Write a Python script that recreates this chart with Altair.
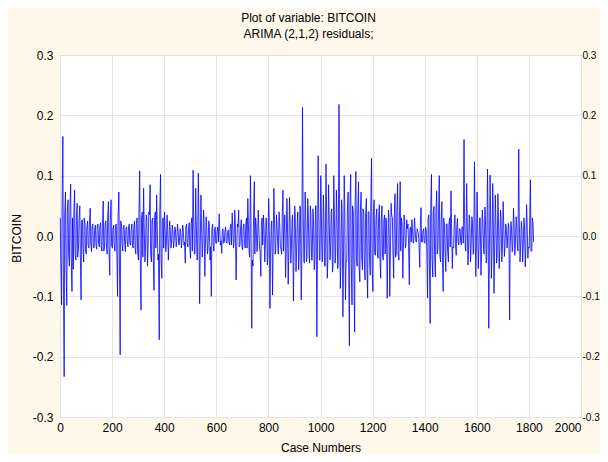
import altair as alt
import pandas as pd

# ---- data ----
# spike / envelope readings, every 5th case
case_numbers = list(range(1, 1821, 5))
residuals = [
    0.030, -0.114, 0.165, -0.233, 0.073, -0.115, 0.060, -0.050, 0.086, -0.092,
    -0.055, 0.076, -0.040, 0.054, -0.020, 0.050, -0.106, 0.027, -0.043, 0.020,
    -0.030, 0.025, -0.020, 0.046, -0.026, 0.020, -0.020, 0.018, -0.022, 0.020,
    -0.018, 0.022, -0.025, 0.058, -0.020, 0.025, -0.030, 0.057, -0.065, 0.060,
    -0.020, 0.018, -0.025, 0.020, -0.100, 0.073, -0.197, 0.020, -0.025, 0.018,
    -0.026, 0.015, -0.018, 0.020, -0.015, 0.020, -0.020, 0.025, -0.030, 0.030,
    -0.040, 0.108, -0.123, 0.040, 0.079, -0.043, 0.035, -0.050, 0.040, 0.085,
    -0.043, 0.030, -0.090, 0.040, 0.068, -0.040, -0.172, 0.102, -0.070, 0.030,
    0.040, -0.026, 0.035, -0.040, 0.025, -0.020, 0.018, -0.020, 0.015, -0.018,
    0.020, -0.015, 0.012, -0.020, 0.018, -0.015, -0.045, 0.020, -0.018, 0.022,
    -0.037, 0.030, 0.109, -0.030, 0.079, -0.040, 0.104, -0.112, 0.068, -0.035,
    0.043, -0.067, 0.032, -0.030, 0.025, -0.040, -0.100, 0.020, -0.025, 0.015,
    -0.012, 0.015, 0.037, -0.015, -0.029, 0.012, -0.010, 0.015, -0.012, 0.010,
    -0.015, 0.020, 0.038, -0.020, 0.043, -0.073, 0.020, 0.043, -0.015, 0.027,
    -0.023, 0.020, -0.020, 0.030, 0.062, -0.026, 0.100, -0.153, -0.050, 0.090,
    0.030, -0.026, 0.043, -0.020, -0.067, 0.030, 0.035, -0.043, 0.030, -0.048,
    0.062, -0.120, 0.020, -0.098, 0.079, -0.030, 0.035, -0.015, 0.040, -0.020,
    -0.030, 0.076, 0.020, -0.069, 0.062, -0.080, 0.064, -0.045, 0.030, -0.108,
    0.050, -0.059, 0.027, -0.056, 0.050, -0.106, 0.213, -0.040, 0.073, -0.043,
    0.062, -0.032, 0.050, -0.040, 0.045, -0.056, 0.050, -0.167, 0.133, -0.040,
    0.100, -0.043, 0.068, -0.050, 0.119, -0.070, 0.085, -0.040, 0.040, -0.060,
    0.100, -0.045, 0.076, -0.054, 0.218, -0.087, 0.060, -0.134, 0.100, -0.106,
    -0.040, 0.073, -0.182, 0.102, -0.114, 0.040, -0.159, 0.107, -0.050, 0.090,
    -0.076, 0.073, -0.056, 0.040, -0.073, 0.062, -0.103, 0.040, -0.065, 0.129,
    -0.092, 0.060, -0.032, 0.045, -0.037, 0.052, -0.070, 0.050, -0.040, 0.035,
    0.030, -0.103, 0.043, -0.100, 0.054, 0.030, -0.070, 0.070, -0.030, 0.087,
    -0.040, 0.090, 0.030, -0.070, 0.035, -0.020, 0.027, 0.020, -0.081, 0.015,
    0.027, -0.012, 0.030, -0.008, 0.012, 0.004, -0.052, 0.047, -0.010, 0.012,
    -0.012, 0.010, -0.103, 0.035, -0.145, 0.102, -0.068, 0.049, -0.068, 0.075,
    -0.020, 0.100, -0.043, 0.057, -0.092, 0.018, -0.059, 0.020, -0.043, 0.030,
    0.075, -0.054, -0.020, 0.035, -0.032, 0.029, -0.015, 0.012, -0.015, 0.015,
    0.160, -0.020, 0.087, -0.048, 0.035, -0.043, 0.032, -0.030, 0.123, -0.067,
    0.073, -0.054, 0.030, -0.065, 0.043, -0.020, 0.048, -0.045, 0.111, -0.153,
    0.101, -0.070, 0.087, -0.095, 0.068, -0.045, 0.070, -0.054, 0.043, -0.043,
    0.057, -0.034, 0.020, -0.020, 0.021, -0.139, 0.024, -0.026, 0.046, -0.032,
    0.032, -0.020, 0.144, -0.043, 0.024, -0.043, 0.030, -0.051, 0.052, -0.037,
    -0.020, 0.093, -0.025, 0.020,
]
# dense core band readings, in between
core_cases = list(range(3, 1821, 5))
core_residuals = [
    -0.040, 0.050, -0.060, 0.035, -0.045, 0.040, -0.030, 0.045, -0.035, 0.030,
    0.035, -0.030, 0.030, -0.035, 0.025, -0.030, 0.025, -0.020, 0.030, -0.025,
    0.015, -0.015, 0.020, -0.012, 0.015, -0.018, 0.012, -0.015, 0.018, -0.012,
    0.015, -0.018, 0.020, -0.025, 0.020, -0.015, 0.030, -0.020, 0.025, -0.015,
    0.012, -0.015, 0.018, -0.025, 0.030, -0.035, 0.025, -0.012, 0.015, -0.010,
    0.012, -0.010, 0.015, -0.012, 0.010, -0.015, 0.012, -0.018, 0.020, -0.025,
    0.035, -0.040, 0.030, -0.035, 0.020, -0.025, 0.030, -0.020, 0.035, -0.030,
    0.025, -0.035, 0.030, -0.020, 0.025, -0.030, 0.040, -0.035, 0.025, -0.020,
    0.018, -0.015, 0.015, -0.012, 0.010, -0.012, 0.010, -0.008, 0.012, -0.010,
    0.010, -0.012, 0.008, -0.010, 0.012, -0.010, 0.015, -0.012, 0.010, -0.015,
    0.020, -0.025, 0.035, -0.030, 0.025, -0.035, 0.040, -0.030, 0.025, -0.020,
    0.025, -0.020, 0.018, -0.022, 0.020, -0.018, 0.012, -0.015, 0.010, -0.012,
    0.008, -0.010, 0.012, -0.008, 0.010, -0.012, 0.008, -0.010, 0.006, -0.008,
    0.012, -0.015, 0.018, -0.012, 0.020, -0.025, 0.015, -0.018, 0.012, -0.015,
    0.015, -0.012, 0.018, -0.020, 0.025, -0.035, 0.030, -0.040, 0.035, -0.030,
    0.020, -0.018, 0.015, -0.025, 0.020, -0.015, 0.018, -0.020, 0.025, -0.030,
    0.030, -0.035, 0.025, -0.030, 0.035, -0.025, 0.020, -0.030, 0.025, -0.020,
    0.030, -0.025, 0.035, -0.030, 0.025, -0.035, 0.030, -0.025, 0.035, -0.040,
    0.035, -0.030, 0.040, -0.035, 0.045, -0.050, 0.060, -0.045, 0.040, -0.035,
    0.040, -0.045, 0.035, -0.040, 0.030, -0.045, 0.050, -0.055, 0.045, -0.040,
    0.045, -0.040, 0.035, -0.050, 0.055, -0.045, 0.040, -0.035, 0.045, -0.050,
    0.045, -0.035, 0.040, -0.045, 0.060, -0.050, 0.040, -0.055, 0.050, -0.045,
    0.040, -0.050, 0.055, -0.045, 0.050, -0.060, 0.055, -0.040, 0.045, -0.050,
    0.040, -0.035, 0.045, -0.040, 0.035, -0.045, 0.040, -0.035, 0.050, -0.045,
    0.035, -0.030, 0.030, -0.025, 0.030, -0.035, 0.025, -0.030, 0.025, -0.030,
    0.025, -0.035, 0.030, -0.040, 0.035, -0.025, 0.030, -0.035, 0.040, -0.030,
    0.030, -0.025, 0.020, -0.025, 0.018, -0.015, 0.012, -0.015, 0.012, -0.010,
    0.010, -0.008, 0.012, -0.010, 0.008, -0.010, 0.012, -0.010, 0.008, -0.010,
    0.015, -0.020, 0.030, -0.040, 0.045, -0.035, 0.040, -0.030, 0.035, -0.030,
    0.035, -0.030, 0.025, -0.035, 0.030, -0.025, 0.020, -0.025, 0.020, -0.018,
    0.020, -0.018, 0.015, -0.012, 0.015, -0.010, 0.012, -0.010, 0.015, -0.012,
    0.030, -0.025, 0.035, -0.030, 0.025, -0.020, 0.025, -0.030, 0.040, -0.035,
    0.030, -0.025, 0.030, -0.035, 0.025, -0.030, 0.035, -0.040, 0.045, -0.050,
    0.040, -0.035, 0.045, -0.040, 0.030, -0.035, 0.030, -0.025, 0.030, -0.025,
    0.025, -0.020, 0.015, -0.012, 0.015, -0.020, 0.015, -0.018, 0.020, -0.015,
    0.020, -0.025, 0.030, -0.020, 0.015, -0.020, 0.018, -0.022, 0.025, -0.018,
    0.020, -0.025, 0.030, -0.010,
]
x_ticks = [0, 200, 400, 600, 800, 1000, 1200, 1400, 1600, 1800, 2000]
y_ticks = [-0.3, -0.2, -0.1, 0.0, 0.1, 0.2, 0.3]
title_text = "Plot of variable: BITCOIN"
subtitle_text = "ARIMA (2,1,2) residuals;"
x_title = "Case Numbers"
y_title = "BITCOIN"

df = pd.DataFrame(
    {"case": case_numbers + core_cases, "value": residuals + core_residuals}
).sort_values("case")

FONT = "Liberation Sans"
GRID = "#E4E4E4"
label_expr = "replace(format(datum.value, '.1f'), '\u2212', '-')"
x_scale = alt.Scale(domain=[0, 2000], nice=False, zero=False)
y_scale = alt.Scale(domain=[-0.3, 0.3], nice=False, zero=False)

x_enc = alt.X(
    "case:Q",
    scale=x_scale,
    axis=alt.Axis(
        values=x_ticks, format="d", title=x_title, grid=True, gridColor=GRID, ticks=False,
        domain=False, labelPadding=5, labelFontSize=12, titleFontSize=12,
        titleFontWeight="normal", titleY=30, titleBaseline="middle",
        labelAlign={"condition": {"test": "datum.value == 2000", "value": "right"}, "value": "center"},
        labelColor="#000000", titleColor="#000000", labelFont=FONT, titleFont=FONT,
    ),
)

line = alt.Chart(df).mark_line(color="#0000FF", strokeWidth=0.8).encode(
    x=x_enc,
    y=alt.Y(
        "value:Q", scale=y_scale,
        axis=alt.Axis(
            values=y_ticks, title=y_title, grid=True, gridColor=GRID, ticks=False,
            domain=False, labelExpr=label_expr, labelPadding=7, labelFontSize=12,
            titleFontSize=12, titleFontWeight="normal", titleX=-44, titleY=183,
            titleBaseline="middle", labelColor="#000000", titleColor="#000000",
            labelFont=FONT, titleFont=FONT,
        ),
    ),
    order="case:Q",
)

right = alt.Chart(df).mark_line(strokeOpacity=0).encode(
    x=alt.X("case:Q", scale=x_scale),
    y=alt.Y(
        "value:Q", scale=y_scale,
        axis=alt.Axis(
            orient="right", values=y_ticks, title=None, grid=False, ticks=False,
            domain=False, labelExpr=label_expr, labelPadding=1, labelFontSize=10,
            labelColor="#000000", labelFont=FONT,
        ),
    ),
)

chart = (
    alt.layer(line, right)
    .resolve_axis(y="independent")
    .properties(
        width=521,
        height=362,
        autosize=alt.AutoSizeParams(type="none"),
        padding={"left": 52, "top": 47, "right": 19, "bottom": 37},
        background="#FDF8EA",
        title=alt.TitleParams(
            text=title_text, subtitle=subtitle_text, fontSize=12, subtitleFontSize=12,
            font=FONT, subtitleFont=FONT, fontWeight="normal", color="#000000",
            subtitleColor="#000000", anchor="middle", dx=-12, offset=8, subtitlePadding=4,
        ),
    )
    .configure_view(stroke="#7F7F7F", strokeWidth=1, fill="#FFFFFF")
)

chart.save("out.html", embed_options={"renderer": "svg", "actions": False})
